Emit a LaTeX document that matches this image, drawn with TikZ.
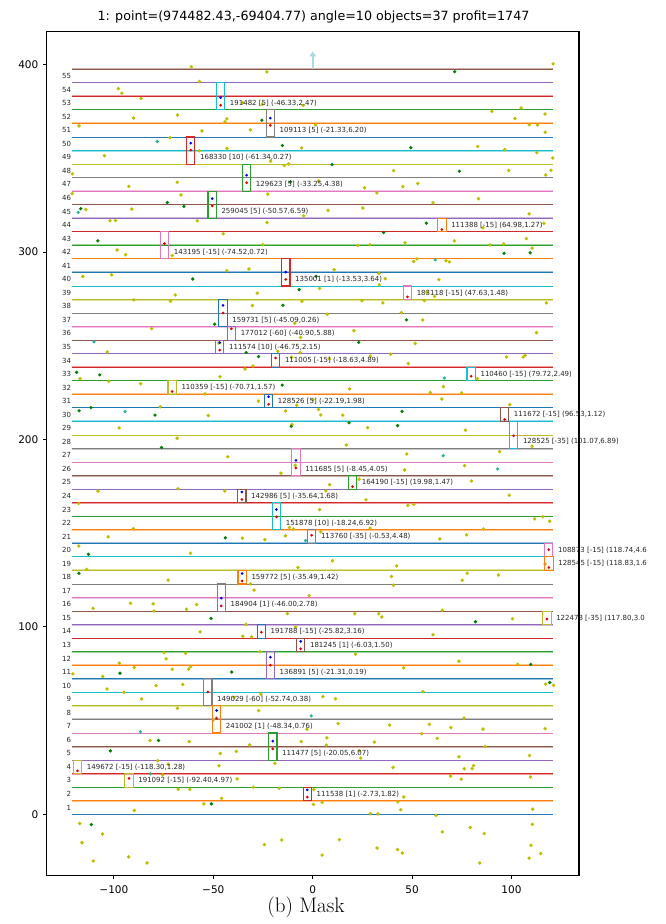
\documentclass[tikz,border=0pt]{standalone}
\usepackage{fontspec}
\newfontfamily\mplfont{DejaVu Sans}
\usepackage{tikz}
\usetikzlibrary{arrows.meta}

% matplotlib colour cycle
\definecolor{tab0}{HTML}{1F77B4}
\definecolor{tab1}{HTML}{FF7F0E}
\definecolor{tab2}{HTML}{2CA02C}
\definecolor{tab3}{HTML}{D62728}
\definecolor{tab4}{HTML}{9467BD}
\definecolor{tab5}{HTML}{8C564B}
\definecolor{tab6}{HTML}{E377C2}
\definecolor{tab7}{HTML}{7F7F7F}
\definecolor{tab8}{HTML}{BCBD22}
\definecolor{tab9}{HTML}{17BECF}
\definecolor{dotyellow}{rgb}{0.75,0.75,0}
\definecolor{dotgreen}{rgb}{0,0.5,0}
\definecolor{dotteal}{HTML}{2AB59B}
\definecolor{lightblue}{HTML}{ADD8E6}

\begin{document}
\begin{tikzpicture}[x=1pt,y=1pt,
    stripline/.style={line width=1pt},
    wideline/.style={line width=2pt, opacity=0.45},
    objbox/.style={line width=1.1pt},
    objlabel/.style={anchor=west, xshift=5pt, inner sep=0pt, text=black!85, font=\mplfont\fontsize{7}{8}\selectfont},
    striplabel/.style={anchor=east, inner sep=0.5pt, text=black!85, font=\mplfont\fontsize{7}{8}\selectfont},
    ticklabel/.style={inner sep=0pt, font=\mplfont\fontsize{10.5}{12}\selectfont}]
    \path[use as bounding box, fill=white] (0,0) rectangle (665,924);

    % Title and caption
    \node[anchor=base, font=\mplfont\fontsize{12.7}{15}\selectfont] (title) at (313.5,903.5)
        {1: point=(974482.43,-69404.77) angle=10 objects=37 profit=1747};
    \node[font=\fontsize{21}{25}\selectfont] (caption) at (306,17) {(b) Mask};

    \begin{scope}[shift={(312.7pt,109.7pt)}, x=1.988pt, y=1.874pt]
    % Strip lines
    \foreach \i in {0,...,55}{
        \pgfmathtruncatemacro\ci{mod(\i,10)}
        \draw[stripline, tab\ci] (-121,\i*7.228) -- (121,\i*7.228);
    }
    \foreach \i in {1,3,5,7,8,10,11,12,14,16,18,20,21,23,25,27,29,31,33,36,38,40,42,44,46,49,51,53,55}{
        \pgfmathtruncatemacro\ci{mod(\i,10)}
        \draw[wideline, tab\ci] (-121,\i*7.228) -- (121,\i*7.228);
    }
    \foreach \k in {1,...,55}
        \node[striplabel] (strip\k) at (-121.2,{(\k-0.5)*7.228}) {\k};

    % Scattered points
    \pgfmathsetseed{1747}
    \foreach \k in {1,...,330}{
        \pgfmathsetmacro\sx{rnd*244-122}
        \pgfmathsetmacro\sy{rnd*428-26}
        \fill[dotyellow] (\sx,\sy) circle (1.9pt);
    }
    \foreach \k in {1,...,48}{
        \pgfmathsetmacro\sx{rnd*240-120}
        \pgfmathsetmacro\sy{rnd*410-10}
        \fill[dotgreen] (\sx,\sy) circle (1.8pt);
    }
    \foreach \k in {1,...,12}{
        \pgfmathsetmacro\sx{rnd*240-120}
        \pgfmathsetmacro\sy{rnd*410-20}
        \fill[dotteal] (\sx,\sy) circle (1.8pt);
    }

    % Packed objects: x / bottom line / strips / red / blue / colour / label
    \foreach \px/\pb/\pn/\pr/\pq/\pc/\lbl [count=\j] in {
        -46.33/52/2/0.34/0.90/tab9/{191482 [5] (-46.33,2.47)},
        -21.33/50/2/0.86/1.40/tab7/{109113 [5] (-21.33,6.20)},
        -61.34/48/2/1.03/1.55/tab3/{168330 [10] (-61.34,0.27)},
        -33.25/46/2/0.62/1.18/tab2/{129623 [5] (-33.25,4.38)},
        -50.57/44/2/0.92/1.45/tab2/{259045 [5] (-50.57,6.59)},
        64.98/43/1/0.17/0/tab1/{111388 [-15] (64.98,1.27)},
        -74.52/41/2/1.13/0/tab6/{143195 [-15] (-74.52,0.72)},
        -13.53/39/2/0.49/1.03/tab3/{135001 [1] (-13.53,3.64)},
        47.63/38/1/0.20/0/tab6/{183118 [-15] (47.63,1.48)},
        -45.09/36/2/1.01/1.57/tab0/{159731 [5] (-45.09,0.26)},
        -40.90/35/1/0.84/0/tab4/{177012 [-60] (-40.90,5.88)},
        -46.75/34/1/0.27/0.83/tab4/{111574 [10] (-46.75,2.15)},
        -18.63/33/1/0.69/0/tab0/{111005 [-15] (-18.63,4.89)},
        79.72/32/1/0.34/0/tab9/{110460 [-15] (79.72,2.49)},
        -70.71/31/1/0.22/0/tab8/{110359 [-15] (-70.71,1.57)},
        -22.19/30/1/0.27/0.83/tab0/{128526 [5] (-22.19,1.98)},
        96.53/29/1/0.15/0/tab5/{111672 [-15] (96.53,1.12)},
        101.07/27/2/0.94/0/tab9/{128525 [-35] (101.07,6.89)},
        -8.45/25/2/0.57/1.13/tab6/{111685 [5] (-8.45,4.05)},
        19.98/24/1/0.19/0/tab2/{164190 [-15] (19.98,1.47)},
        -35.64/23/1/0.24/0.79/tab5/{142986 [5] (-35.64,1.68)},
        -18.24/21/2/0.96/1.50/tab9/{151878 [10] (-18.24,6.92)},
        -0.53/20/1/0.60/0/tab7/{113760 [-35] (-0.53,4.48)},
        118.74/19/1/0.54/0/tab6/{108873 [-15] (118.74,4.6},
        118.83/18/1/0.22/0/tab1/{128545 [-15] (118.83,1.6},
        -35.49/17/1/0.22/0.78/tab1/{159772 [5] (-35.49,1.42)},
        -46.00/15/2/0.39/0.96/tab7/{184904 [1] (-46.00,2.78)},
        117.80/14/1/0.42/0/tab8/{122478 [-35] (117.80,3.0},
        -25.82/13/1/0.44/0/tab0/{191788 [-15] (-25.82,3.16)},
        -6.03/12/1/0.22/0.76/tab5/{181245 [1] (-6.03,1.50)},
        -21.31/10/2/1.01/1.60/tab4/{136891 [5] (-21.31,0.19)},
        -52.74/8/2/1.03/0/tab7/{149029 [-60] (-52.74,0.38)},
        -48.34/6/2/1.10/1.67/tab1/{241002 [1] (-48.34,0.76)},
        -20.05/4/2/0.83/1.40/tab2/{111477 [5] (-20.05,6.07)},
        -118.30/3/1/0.20/0/tab8/{149672 [-15] (-118.30,1.28)},
        -92.40/2/1/0.66/0/tab8/{191092 [-15] (-92.40,4.97)},
        -2.73/1/1/0.27/0.81/tab3/{111538 [1] (-2.73,1.82)}}{
        \draw[objbox, \pc] (\px-2.1,\pb*7.228) rectangle (\px+2.1,{(\pb+\pn)*7.228});
        \ifdim\pq pt>0pt
            \fill[blue] (\px,{(\pb+\pq)*7.228}) circle (1.5pt);
        \fi
        \fill[red!90!black] (\px,{(\pb+\pr)*7.228}) circle (1.5pt);
        \node[objlabel] (obj\j) at (\px+2.1,{(\pb+0.5)*7.228}) {\lbl};
    }

    % Direction arrow
    \coordinate (arrowfoot) at (0,55*7.228);
    \coordinate (arrowtip) at (0,407.1);
    \draw[lightblue, line width=2pt, -{Triangle[length=5pt,width=6.5pt]}] (arrowfoot) -- (arrowtip);

    % Axes
    \draw[line width=1.2pt] (-133.8,-32.66) rectangle (133.9,417.7);
    \foreach \t/\tl [count=\n] in {-100/−100,-50/−50,0/0,50/50,100/100}{
        \draw[line width=0.9pt] (\t,-32.66) -- ++(0,-3.5pt);
        \node[ticklabel] (xtick\n) at (\t,-40.4) {\tl};
    }
    \foreach \t [count=\n] in {0,100,200,300,400}{
        \draw[line width=0.9pt] (-133.8,\t) -- ++(-3.5pt,0);
        \node[ticklabel, anchor=east] (ytick\n) at (-137.9,\t) {\t};
    }
    \end{scope}
\end{tikzpicture}
\end{document}
